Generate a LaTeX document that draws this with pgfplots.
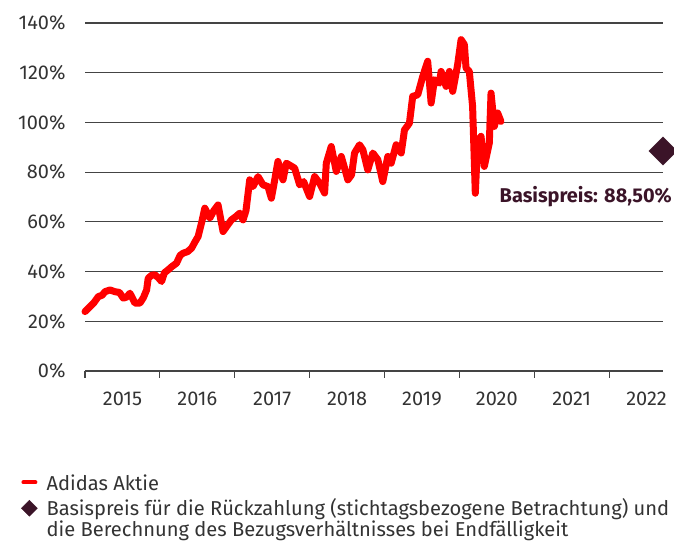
\documentclass[border=0pt]{standalone}
\usepackage{pgfplots}
\pgfplotsset{compat=1.18}
\usepackage{fontspec}
\setmainfont{Fira Sans}
\definecolor{maroon}{HTML}{3B1428}
\definecolor{adired}{HTML}{FF0000}
\definecolor{txt}{HTML}{333333}
\definecolor{gridc}{HTML}{444444}
\begin{document}
\begin{tikzpicture}[x=1bp,y=1bp]
\useasboundingbox (0,0) rectangle (674,542);
\begin{axis}[
  at={(85bp,171bp)}, anchor=south west,
  scale only axis, width=578bp, height=348bp,
  xmin=2015, xmax=2022.72, ymin=0, ymax=140,
  clip=false,
  axis lines*=left,
  y axis line style={draw=none},
  x axis line style={gridc, line width=1.2bp},
  ytick={0,20,...,140},
  yticklabels={0\%,20\%,40\%,60\%,80\%,100\%,120\%,140\%},
  ymajorgrids, grid style={gridc, line width=1.2bp},
  ytick style={draw=none},
  xtick={2015,2016,...,2022}, xticklabels={},
  tick align=outside, major tick length=7bp,
  xtick style={gridc, line width=1.2bp},
  extra x ticks={2015.5,2016.5,2017.5,2018.5,2019.5,2020.5,2021.5,2022.5},
  extra x tick labels={2015,2016,2017,2018,2019,2020,2021,2022},
  extra x tick style={major tick length=0pt, grid=none},
  ticklabel style={font=\fontsize{20}{22}\selectfont, text=txt},
  xticklabel style={yshift=-17bp},
  yticklabel style={xshift=-9bp},
  legend style={at={(-0.1107,-0.292)}, anchor=north west, draw=none, fill=none,
    font=\fontsize{20.2}{21}\selectfont, text=txt, inner sep=0pt, row sep=3bp,
    column sep=7bp, cells={anchor=base west}},
  legend cell align=left,
]
\addplot[adired, line width=7bp, line join=round, line cap=round,
  legend image code/.code={\draw[line width=4bp, adired] (0bp,1bp) -- (12bp,1bp);}]
table {
2015.000 23.9
2015.067 25.9
2015.120 27.5
2015.177 29.9
2015.230 30.5
2015.267 31.9
2015.333 32.6
2015.400 31.9
2015.460 31.6
2015.511 29.3
2015.560 29.8
2015.600 31.3
2015.667 27.3
2015.733 27.3
2015.780 29.5
2015.823 32.6
2015.844 37.3
2015.890 38.5
2015.933 38.7
2015.980 37.5
2016.023 36.0
2016.060 39.5
2016.111 40.7
2016.160 42.0
2016.223 43.4
2016.270 46.5
2016.311 47.4
2016.370 48.0
2016.423 49.4
2016.470 52.0
2016.511 54.1
2016.560 60.0
2016.600 65.5
2016.667 61.5
2016.720 64.5
2016.777 66.8
2016.844 56.1
2016.900 58.5
2016.956 60.8
2017.010 62.0
2017.067 63.5
2017.111 60.8
2017.150 64.5
2017.200 76.9
2017.244 74.2
2017.311 78.2
2017.377 74.9
2017.444 74.2
2017.489 69.5
2017.530 76.2
2017.577 84.3
2017.644 76.9
2017.689 83.6
2017.800 81.6
2017.867 74.9
2017.920 76.2
2018.000 70.2
2018.067 78.2
2018.133 75.6
2018.200 71.6
2018.223 83.6
2018.289 90.3
2018.356 80.3
2018.423 86.3
2018.511 76.9
2018.560 78.9
2018.600 87.7
2018.667 91.0
2018.711 89.0
2018.777 80.9
2018.844 87.7
2018.911 85.0
2018.977 76.2
2019.044 86.3
2019.089 83.6
2019.156 91.0
2019.223 87.7
2019.267 97.0
2019.333 99.7
2019.377 110.5
2019.444 111.1
2019.511 118.5
2019.577 124.6
2019.623 107.8
2019.667 117.2
2019.733 115.8
2019.756 120.5
2019.823 114.5
2019.867 120.5
2019.911 112.5
2019.977 123.2
2020.023 133.3
2020.067 131.3
2020.089 121.9
2020.133 120.5
2020.177 106.4
2020.213 71.5
2020.244 91.7
2020.289 94.4
2020.333 82.3
2020.400 91.7
2020.423 111.8
2020.467 98.4
2020.511 103.8
2020.556 100.4
};
\addlegendentry{Adidas Aktie}
\addplot[only marks, mark=square*, mark size=10bp,
  mark options={rotate=45, fill=maroon, draw=maroon},
  legend image code/.code={\fill[maroon] (6bp,-8bp) -- (14bp,0bp) -- (6bp,8bp) -- (-2bp,0bp) -- cycle;}]
coordinates {(2022.72,88.5)};
\addlegendentry{\parbox[t]{640bp}{Basispreis für die Rückzahlung (stichtagsbezogene Betrachtung) und\\die Berechnung des Bezugsverhältnisses bei Endfälligkeit}}
\node[anchor=east, inner sep=0pt, xshift=9bp, font=\bfseries\fontsize{20}{22}\selectfont, text=maroon]
  at (axis cs:2022.72,70.1) {Basispreis: 88,50\%};
\end{axis}
\end{tikzpicture}
\end{document}
